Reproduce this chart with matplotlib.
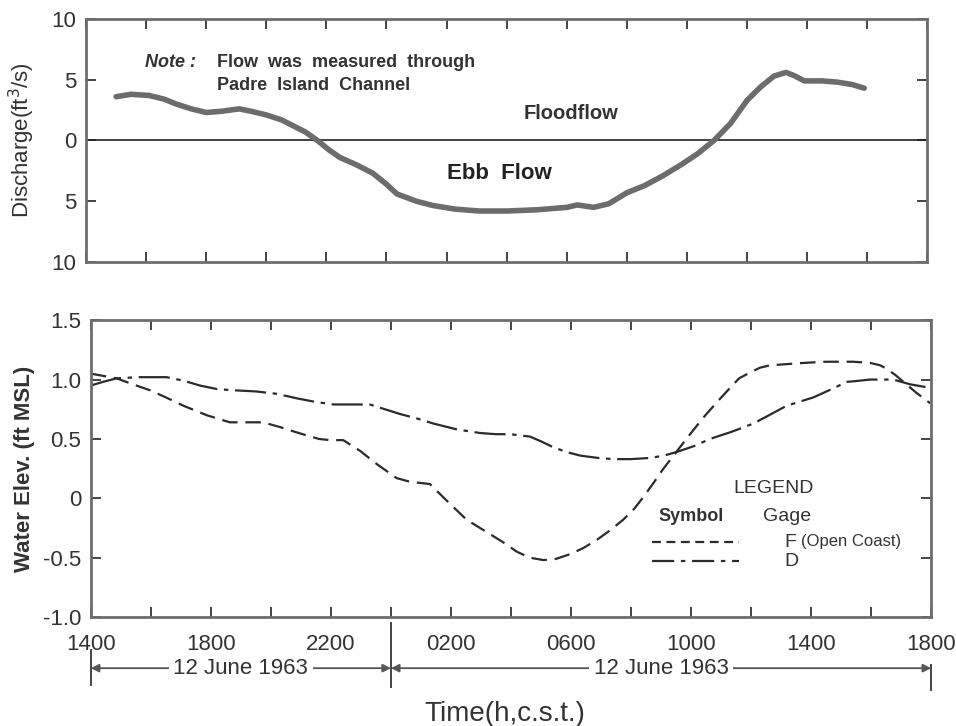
import matplotlib
matplotlib.use("Agg")
import matplotlib.pyplot as plt
from matplotlib.transforms import blended_transform_factory

plt.rcParams['font.family'] = ['Liberation Sans', 'DejaVu Sans']

# hours after 1400 c.s.t.
discharge_hours = [1.0, 1.5, 2.1, 2.6, 3.0, 3.5, 4.0, 4.5, 5.1, 5.5, 6.0, 6.5, 6.9, 7.3,
                   7.7, 8.1, 8.45, 9.0, 9.55, 10.0, 10.35, 11.0, 11.55, 12.3, 13.1, 14.0,
                   15.0, 16.0, 16.35, 16.9, 17.4, 18.0, 18.6, 19.2, 19.8, 20.35, 20.9,
                   21.45, 22.0, 22.45, 22.9, 23.3, 23.6, 23.9, 24.5, 25.0, 25.5, 25.9]
discharge = [3.6, 3.8, 3.7, 3.4, 3.0, 2.6, 2.3, 2.4, 2.6, 2.4, 2.1, 1.7, 1.2, 0.7,
             0.0, -0.8, -1.4, -2.0, -2.7, -3.6, -4.4, -5.0, -5.35, -5.65, -5.8, -5.8,
             -5.7, -5.5, -5.3, -5.5, -5.2, -4.3, -3.7, -2.9, -2.0, -1.1, 0.0,
             1.4, 3.3, 4.4, 5.3, 5.6, 5.3, 4.9, 4.9, 4.8, 4.6, 4.3]

gage_f_hours = [0, 0.86, 1.4, 1.97, 2.5, 3.08, 3.86, 4.63, 5.2, 5.74, 6.3, 6.8, 7.19,
                7.6, 7.97, 8.41, 8.97, 9.52, 10.19, 10.63, 11.3, 11.86, 12.52, 13.1,
                13.74, 14.2, 14.63, 15.08, 15.5, 15.97, 16.4, 16.86, 17.3, 17.74, 18.1,
                18.41, 18.75, 19.08, 19.63, 20.0, 20.41, 20.9, 21.3, 21.6, 21.97, 22.3,
                22.63, 23.2, 23.74, 24.5, 25.41, 25.97, 26.3, 26.52, 26.8, 27.08, 27.5,
                27.97]
gage_f = [1.05, 1.01, 0.96, 0.91, 0.85, 0.78, 0.70, 0.64, 0.64, 0.64, 0.60, 0.56, 0.53,
          0.50, 0.49, 0.49, 0.40, 0.29, 0.17, 0.14, 0.12, -0.02, -0.18, -0.27,
          -0.37, -0.45, -0.50, -0.52, -0.51, -0.47, -0.42, -0.35, -0.27, -0.18, -0.09,
          0.01, 0.13, 0.25, 0.43, 0.55, 0.68, 0.82, 0.93, 1.01, 1.06, 1.10,
          1.12, 1.13, 1.14, 1.15, 1.15, 1.14, 1.12, 1.09, 1.04, 0.98, 0.89,
          0.80]

gage_d_hours = [0, 0.4, 0.86, 1.6, 2.52, 3.1, 3.63, 4.2, 4.74, 5.5, 6.19, 6.9, 7.52,
                8.1, 8.63, 9.3, 9.8, 10.3, 10.9, 11.41, 12.2, 12.97, 13.5, 13.97, 14.63,
                15.0, 15.41, 15.85, 16.3, 16.9, 17.41, 18.0, 18.63, 19.1, 19.52, 20.1,
                20.63, 21.35, 22.08, 22.6, 23.19, 24.08, 24.6, 25.19, 25.6, 25.97,
                26.74, 27.3, 27.97]
gage_d = [0.95, 0.98, 1.01, 1.02, 1.02, 0.99, 0.95, 0.92, 0.91, 0.90, 0.88, 0.84, 0.81,
          0.79, 0.79, 0.79, 0.75, 0.71, 0.67, 0.63, 0.58, 0.55, 0.54, 0.54, 0.52,
          0.48, 0.43, 0.39, 0.36, 0.34, 0.33, 0.33, 0.34, 0.36, 0.39, 0.44,
          0.50, 0.56, 0.63, 0.70, 0.78, 0.85, 0.91, 0.98, 0.99, 1.00,
          1.00, 0.96, 0.93]

time_ticks = [0, 4, 8, 12, 16, 20, 24, 28]
time_labels = ['1400', '1800', '2200', '0200', '0600', '1000', '1400', '1800']
discharge_ticks = [-10, -5, 0, 5, 10]
discharge_labels = ['10', '5', '0', '5', '10']
elev_ticks = [-1.0, -0.5, 0, 0.5, 1.0, 1.5]
elev_labels = ['-1.0', '-0.5', '0', '0.5', '1.0', '1.5']
midnight = 10

frame = '#6e6e6e'
ink = '#2b2b2b'
txt = '#333333'


def style_axes(ax):
    for sp in ax.spines.values():
        sp.set_color(frame)
        sp.set_linewidth(2.0)
    ax.set_xlim(0, 28)
    ax.set_xticks(range(0, 29, 2))
    ax.tick_params(axis='both', direction='in', length=7, width=1.4, color='#444444',
                   top=True, right=True, labelsize=16, labelcolor=txt)
    ax.tick_params(axis='y', pad=7)


fig = plt.figure(figsize=(9.56, 7.26), dpi=100)

# discharge through the channel
ax1 = fig.add_axes([0.090, 0.639, 0.880, 0.335])
style_axes(ax1)
ax1.set_ylim(-10, 10)
ax1.set_yticks(discharge_ticks)
ax1.set_yticklabels(discharge_labels)
ax1.tick_params(axis='x', labelbottom=False)
ax1.axhline(0, color='#222222', lw=1.2)
ax1.plot(discharge_hours, discharge, color='#6c6c6c', lw=4.0, solid_capstyle='round')
ax1.set_ylabel('Discharge(ft$^3$/s)', fontsize=16, color=txt)
ax1.yaxis.set_label_coords(-0.058, 0.5)

ax1.text(1.97, 6.4, 'Note :', fontsize=13, fontweight='bold', style='italic',
         color=txt, va='center')
ax1.text(4.35, 6.4, 'Flow  was  measured  through', fontsize=13, fontweight='bold',
         color=txt, va='center')
ax1.text(4.35, 4.5, 'Padre  Island  Channel', fontsize=13, fontweight='bold',
         color=txt, va='center')
ax1.text(14.55, 2.2, 'Floodflow', fontsize=14.5, fontweight='bold', color=txt,
         va='center')
ax1.text(12.0, -2.7, 'Ebb  Flow', fontsize=16, fontweight='bold', color='#222222',
         va='center')

# water elevation at the two gages
ax2 = fig.add_axes([0.095, 0.150, 0.879, 0.409])
style_axes(ax2)
ax2.set_ylim(-1.0, 1.5)
ax2.set_yticks(elev_ticks)
ax2.set_yticklabels(elev_labels)
ax2.set_xticks(range(0, 29, 2))
ax2.set_xticklabels([time_labels[time_ticks.index(h)] if h in time_ticks else ''
                     for h in range(0, 29, 2)])
ax2.tick_params(axis='x', pad=12)
ax2.plot(gage_f_hours, gage_f, color=ink, lw=1.6, dashes=(7, 3.5))
ax2.plot(gage_d_hours, gage_d, color=ink, lw=1.6, dashes=(14, 3, 2, 3))
ax2.set_ylabel('Water Elev. (ft MSL)', fontsize=16, fontweight='bold', color=txt)
ax2.yaxis.set_label_coords(-0.066, 0.5)

# hand-drawn style legend
ax2.text(22.75, 0.08, 'LEGEND', fontsize=14, color=txt, ha='center', va='center')
ax2.text(20.0, -0.15, 'Symbol', fontsize=13, fontweight='bold', color=txt,
         ha='center', va='center')
ax2.text(23.2, -0.15, 'Gage', fontsize=14, color=txt, ha='center', va='center')
ax2.plot([18.7, 21.6], [-0.37, -0.37], color=ink, lw=1.6, dashes=(4, 2.5))
ax2.plot([18.7, 21.6], [-0.53, -0.53], color=ink, lw=1.6, dashes=(10, 3, 2, 3))
ax2.text(23.1, -0.37, 'F', fontsize=14, color=txt, va='center')
ax2.text(23.65, -0.36, '(Open Coast)', fontsize=12, color=txt, va='center')
ax2.text(23.1, -0.53, 'D', fontsize=14, color=txt, va='center')

# date spans below the time axis
trans = blended_transform_factory(ax2.transData, ax2.transAxes)
row = -0.172
for x0, y0, y1 in [(0, -0.11, -0.23), (midnight, -0.02, -0.236), (28, -0.16, -0.246)]:
    ax2.plot([x0, x0], [y0, y1], transform=trans, color='#444444', lw=1.4,
             clip_on=False)
for x0, x1, xc in [(0, midnight, 5.0), (midnight, 28, 19.0)]:
    ax2.annotate('', xy=(x1, row), xytext=(x0, row), xycoords=trans, textcoords=trans,
                 arrowprops=dict(arrowstyle='<|-|>', color='#555555', lw=1.3,
                                 shrinkA=0, shrinkB=0, mutation_scale=12))
    ax2.text(xc, row, '12 June 1963', transform=trans, fontsize=16, color=txt,
             ha='center', va='center',
             bbox=dict(facecolor='white', edgecolor='none', pad=3))

ax2.text(0.493, -0.325, 'Time(h,c.s.t.)', transform=ax2.transAxes, fontsize=20,
         color=txt, ha='center', va='center')

fig.savefig('out.png', dpi=100, facecolor='white')
